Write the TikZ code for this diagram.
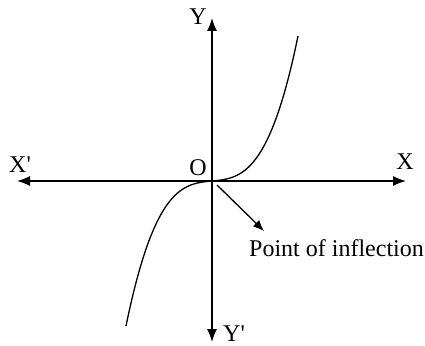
\documentclass[tikz,border=0pt]{standalone}
\usepackage{fontspec}
\setmainfont{Liberation Serif}
\usetikzlibrary{arrows.meta}
\begin{document}
\begin{tikzpicture}[x=1pt,y=-1pt,
  axis/.style={line width=1.3pt,-{Latex[length=13pt,width=10pt]}},
  lbl/.style={font=\fontsize{24}{28}\selectfont,inner sep=0pt},
  curve/.style={line width=1.3pt}]
\useasboundingbox (0,0) rectangle (425,345);
\coordinate (O) at (212,181);
\coordinate (xl) at (17,181);
\coordinate (xr) at (406,181);
\coordinate (yt) at (212,18);
\coordinate (yb) at (212,342);
\draw[axis] (O) -- (xl);
\draw[axis] (O) -- (xr);
\draw[axis] (O) -- (yt);
\draw[axis] (O) -- (yb);
\node[lbl] (X1) at (20,165) {X\textquotesingle};
\node[lbl] (X) at (405,162) {X};
\node[lbl] (Y) at (198,17) {Y};
\node[lbl,anchor=base west] (Y1) at (223,341) {Y\textquotesingle};
\node[lbl] (Olab) at (198,168) {O};
\draw[curve] plot[domain=-8.6:8.6,samples=80,smooth] ({212+10*\x},{181-(0.94*\x+0.2152*\x*\x*\x)});
\node[lbl,anchor=base west] (P) at (249,256) {Point of inflection};
\coordinate (ps) at (217,185);
\draw[line width=1.3pt,-{Latex[length=11pt,width=9pt]}] (ps) -- (264,231);
\end{tikzpicture}
\end{document}
